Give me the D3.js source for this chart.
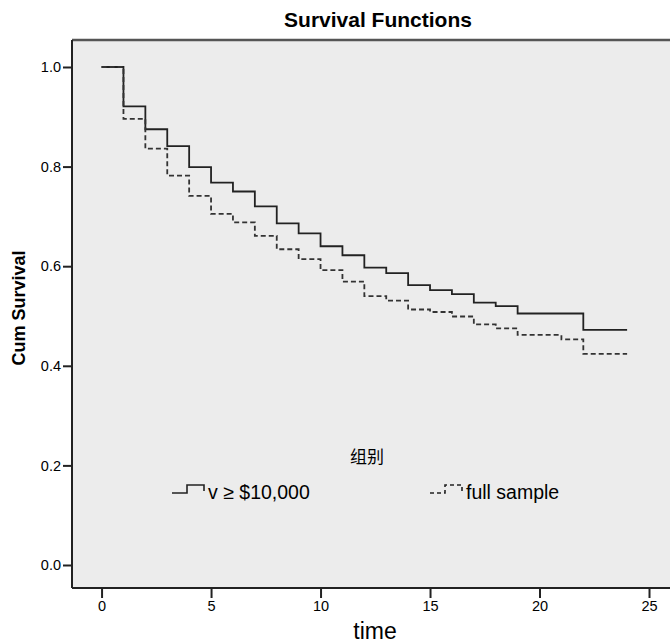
<!DOCTYPE html>
<html>
<head>
<meta charset="utf-8">
<script src="https://cdn.jsdelivr.net/npm/d3@7"></script>
<style>
  body { margin: 0; background: #fff; }
  text { font-family: "Liberation Sans", Arial, sans-serif; fill: #000; }
</style>
</head>
<body>
<svg id="chart" width="670" height="643"></svg>
<script>
// step times and cumulative survival
const timesRich = [0, 1, 2, 3, 4, 5, 6, 7, 8, 9, 10, 11, 12, 13, 14, 15, 16, 17, 18, 19, 22, 24];
const survRich  = [1.0, 0.921, 0.875, 0.841, 0.799, 0.768, 0.750, 0.720, 0.686, 0.666, 0.640, 0.622, 0.597, 0.586, 0.562, 0.552, 0.544, 0.527, 0.520, 0.505, 0.472, 0.472];

const timesAll = [0, 1, 2, 3, 4, 5, 6, 7, 8, 9, 10, 11, 12, 13, 14, 15, 16, 17, 18, 19, 21, 22, 24];
const survAll  = [1.0, 0.896, 0.836, 0.782, 0.741, 0.705, 0.688, 0.661, 0.634, 0.614, 0.592, 0.569, 0.540, 0.531, 0.513, 0.508, 0.499, 0.483, 0.475, 0.462, 0.453, 0.424, 0.424];

const xTicks = [0, 5, 10, 15, 20, 25];
const yTicks = [0.0, 0.2, 0.4, 0.6, 0.8, 1.0];
const groups = ["v \u2265 $10,000", "full sample"];

const svg = d3.select("#chart");
const pLeft = 72, pTop = 40, pRight = 672, pBottom = 588;

const x = d3.scaleLinear().domain([-1.35, 26.05]).range([pLeft, pRight]);
const y = d3.scaleLinear().domain([-0.0462, 1.0542]).range([pBottom, pTop]);

svg.append("rect")
  .attr("x", pLeft).attr("y", pTop)
  .attr("width", pRight - pLeft).attr("height", pBottom - pTop)
  .attr("fill", "#ececec");

// top frame line
svg.append("line")
  .attr("x1", pLeft).attr("x2", pRight).attr("y1", pTop).attr("y2", pTop)
  .attr("stroke", "#555").attr("stroke-width", 2.5);

const yAxis = svg.append("g")
  .attr("transform", `translate(${pLeft},0)`)
  .call(d3.axisLeft(y).tickValues(yTicks).tickFormat(d3.format(".1f")).tickSize(9).tickPadding(2));
const xAxis = svg.append("g")
  .attr("transform", `translate(0,${pBottom})`)
  .call(d3.axisBottom(x).tickValues(xTicks).tickSize(10).tickPadding(3));

[yAxis, xAxis].forEach(function(g) {
  g.select(".domain").attr("stroke", "#222").attr("stroke-width", 2);
  g.selectAll(".tick line").attr("stroke", "#222").attr("stroke-width", 2);
  g.selectAll(".tick text").attr("font-size", 14.5).attr("fill", "#111")
    .style("font-family", "'Liberation Sans', Arial, sans-serif");
});
// y domain goes all the way up to the frame
yAxis.select(".domain").attr("d", `M0,${pBottom}V${pTop}`);
xAxis.select(".domain").attr("d", `M${pLeft},0H${pRight}`);

const line = d3.line()
  .x(function(d) { return x(d[0]); })
  .y(function(d) { return y(d[1]); })
  .curve(d3.curveStepAfter);

svg.append("path")
  .datum(d3.zip(timesRich, survRich))
  .attr("d", line)
  .attr("fill", "none").attr("stroke", "#222").attr("stroke-width", 1.8);

svg.append("path")
  .datum(d3.zip(timesAll, survAll))
  .attr("d", line)
  .attr("fill", "none").attr("stroke", "#333").attr("stroke-width", 1.8)
  .attr("stroke-dasharray", "5,3");

// title and axis labels
svg.append("text").attr("x", 378).attr("y", 27)
  .attr("text-anchor", "middle").attr("font-size", 21).attr("font-weight", "bold")
  .text("Survival Functions");

svg.append("text").attr("x", 375).attr("y", 639)
  .attr("text-anchor", "middle").attr("font-size", 23)
  .text("time");

svg.append("text")
  .attr("transform", "translate(25,308) rotate(-90)")
  .attr("text-anchor", "middle").attr("font-size", 18).attr("font-weight", "bold")
  .text("Cum Survival");

// legend
svg.append("text").attr("x", 367).attr("y", 463)
  .attr("text-anchor", "middle").attr("font-size", 17).attr("fill", "#555")
  .style("font-family", "'Noto Sans CJK SC', sans-serif")
  .text("组别");

const legend = [
  { x0: 172, dash: null, label: groups[0] },
  { x0: 430, dash: "4,3", label: groups[1] }
];
legend.forEach(function(d) {
  svg.append("path")
    .attr("d", `M${d.x0},493H${d.x0 + 15}V485H${d.x0 + 32}V491`)
    .attr("fill", "none").attr("stroke", "#222").attr("stroke-width", 1.6)
    .attr("stroke-dasharray", d.dash);
  svg.append("text").attr("x", d.x0 + 36).attr("y", 499)
    .attr("font-size", 19.5).text(d.label);
});
</script>
</body>
</html>
